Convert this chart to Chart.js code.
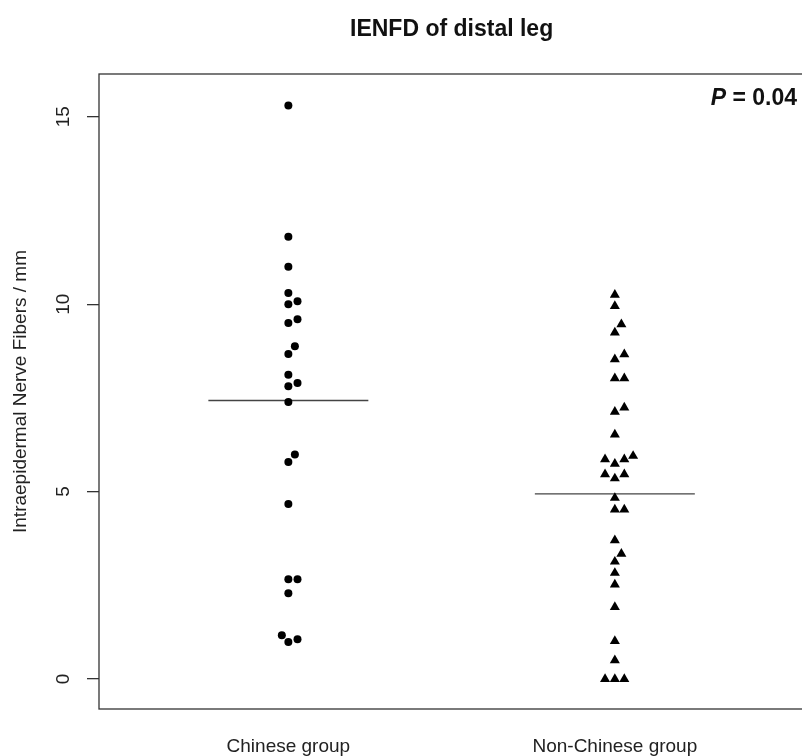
<!DOCTYPE html>
<html>
<head>
<meta charset="utf-8">
<script src="https://cdn.jsdelivr.net/npm/chart.js@4.4.1/dist/chart.umd.min.js"></script>
<style>
html, body { margin: 0; padding: 0; overflow: hidden; background: #fff; }
</style>
</head>
<body>
<canvas id="myChart" width="810" height="756"></canvas>
<script>
var chartTitle = 'IENFD of distal leg';
var yTitle = 'Intraepidermal Nerve Fibers / mm';
var groupNames = ['Chinese group', 'Non-Chinese group'];
var yTicks = [0, 5, 10, 15];
var pLabel = '= 0.04';

// values, with the small sideways shift of each dot
var chineseValues = [15.3, 11.8, 11.0, 10.3, 10.08, 10.0, 9.6, 9.5, 8.88, 8.67, 8.12, 7.9, 7.81, 7.39,
                     5.99, 5.79, 4.67, 2.66, 2.66, 2.29, 1.17, 1.06, 0.99];
var chineseShift  = [0, 0, 0, 0, 0.028, 0, 0.028, 0, 0.02, 0, 0, 0.028, 0, 0,
                     0.02, 0, 0, 0, 0.028, 0, -0.02, 0.028, 0];

var otherValues = [10.25, 9.95, 9.46, 9.24, 8.66, 8.53, 8.02, 8.02, 7.24, 7.13, 6.52,
                   5.95, 5.86, 5.86, 5.74, 5.46, 5.35, 5.46, 4.83, 4.52, 4.52,
                   3.7, 3.34, 3.13, 2.83, 2.52, 1.92, 1.01, 0.5, 0, 0, 0];
var otherShift  = [0, 0, 0.02, 0, 0.029, 0, 0, 0.029, 0.029, 0, 0,
                   0.056, 0.029, -0.03, 0, -0.03, 0, 0.029, 0, 0, 0.029,
                   0, 0.02, 0, 0, 0, 0, 0, 0, -0.03, 0, 0.029];

var groupLines = [7.43, 4.94];

function toPoints(vals, shift, group) {
    return vals.map(function(v, i) { return { x: group + shift[i], y: v }; });
}
function linePoints(group, v) {
    return [{ x: group - 0.245, y: v }, { x: group + 0.245, y: v }];
}

var fontName = '"Liberation Sans", Arial, sans-serif';

var extras = {
    id: 'extras',
    afterDraw: function(chart) {
        var ctx = chart.ctx, a = chart.chartArea, ys = chart.scales.y;
        ctx.save();
        ctx.strokeStyle = '#333';
        ctx.lineWidth = 1.3;
        ctx.strokeRect(a.left, a.top, a.right - a.left, a.bottom - a.top);

        ctx.fillStyle = '#222';
        ctx.font = '19px ' + fontName;
        ctx.textAlign = 'center';
        ctx.textBaseline = 'middle';
        yTicks.forEach(function(t) {
            ctx.save();
            ctx.translate(64, ys.getPixelForValue(t));
            ctx.rotate(-Math.PI / 2);
            ctx.fillText(String(t), 0, 0);
            ctx.restore();
        });

        ctx.fillStyle = '#111';
        ctx.textBaseline = 'alphabetic';
        ctx.font = 'bold 23px ' + fontName;
        ctx.fillText(chartTitle, (a.left + a.right) / 2, 36);

        ctx.textAlign = 'right';
        ctx.fillText(' ' + pLabel, 797, 105);
        var w = ctx.measureText(' ' + pLabel).width;
        ctx.font = 'italic bold 23px ' + fontName;
        ctx.fillText('P', 797 - w, 105);
        ctx.restore();
    }
};

var ctx = document.getElementById('myChart').getContext('2d');
var chart = new Chart(ctx, {
    type: 'scatter',
    data: {
        datasets: [{
            data: toPoints(chineseValues, chineseShift, 1),
            pointStyle: 'circle',
            pointRadius: 4,
            backgroundColor: '#000',
            borderWidth: 0
        }, {
            data: toPoints(otherValues, otherShift, 2),
            pointStyle: 'triangle',
            pointRadius: 5.8,
            backgroundColor: '#000',
            borderWidth: 0
        }, {
            type: 'line',
            data: linePoints(1, groupLines[0]),
            borderColor: '#444',
            borderWidth: 1.3,
            pointRadius: 0
        }, {
            type: 'line',
            data: linePoints(2, groupLines[1]),
            borderColor: '#444',
            borderWidth: 1.3,
            pointRadius: 0
        }]
    },
    options: {
        responsive: false,
        animation: false,
        layout: { padding: { top: 74, left: 0, right: 0, bottom: 0 } },
        plugins: { legend: { display: false }, tooltip: { enabled: false } },
        scales: {
            x: {
                type: 'linear',
                min: 0.42,
                max: 2.58,
                grid: { display: false, drawTicks: false },
                border: { display: false },
                afterBuildTicks: function(scale) {
                    scale.ticks = [{ value: 1 }, { value: 2 }];
                },
                ticks: {
                    padding: 26,
                    color: '#222',
                    font: { family: fontName, size: 19 },
                    maxRotation: 0,
                    callback: function(v) { return groupNames[Math.round(v) - 1]; }
                },
                afterFit: function(scale) { scale.height = 47; }
            },
            y: {
                type: 'linear',
                min: -0.80,
                max: 16.14,
                afterBuildTicks: function(scale) {
                    scale.ticks = yTicks.map(function(t) { return { value: t }; });
                },
                grid: { drawOnChartArea: false, drawTicks: true, tickLength: 12, color: '#333', lineWidth: 1.3 },
                border: { display: false },
                ticks: { display: false },
                title: {
                    display: true,
                    text: yTitle,
                    color: '#222',
                    font: { family: fontName, size: 19 },
                    padding: { top: 9, bottom: 0 }
                },
                afterFit: function(scale) { scale.width = 99; }
            }
        }
    },
    plugins: [extras]
});
</script>
</body>
</html>
